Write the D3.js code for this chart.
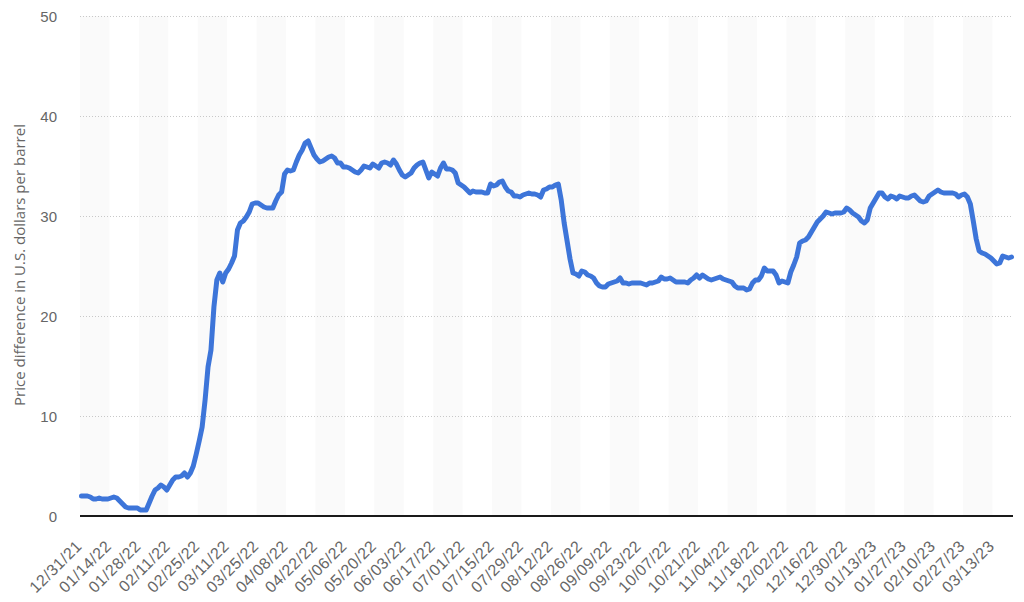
<!DOCTYPE html>
<html><head><meta charset="utf-8">
<script src="https://cdn.jsdelivr.net/npm/d3@7"></script>
<style>body{margin:0;background:#fff} svg{display:block;font-family:"Open Sans",sans-serif}</style>
</head><body><svg width="1024" height="602"></svg>
<script>
const tickLabels = ["12/31/21","01/14/22","01/28/22","02/11/22","02/25/22","03/11/22","03/25/22","04/08/22","04/22/22","05/06/22","05/20/22","06/03/22","06/17/22","07/01/22","07/15/22","07/29/22","08/12/22","08/26/22","09/09/22","09/23/22","10/07/22","10/21/22","11/04/22","11/18/22","12/02/22","12/16/22","12/30/22","01/13/23","01/27/23","02/10/23","02/27/23","03/13/23"];
const tickIndex = [0,10,20,30,40,50,60,70,80,90,100,110,120,130,140,150,160,170,180,190,200,210,220,230,240,250,260,270,280,290,300,310];
const yTicks = [0,10,20,30,40,50];
const yTitle = "Price difference in U.S. dollars per barrel";
const values = [
2.0,2.0,2.0,1.9,1.7,1.7,1.8,1.7,1.7,1.7,
1.8,1.9,1.8,1.5,1.2,0.9,0.8,0.8,0.8,0.8,
0.6,0.6,0.6,1.3,2.0,2.6,2.8,3.1,2.9,2.6,
3.1,3.6,3.9,3.9,4.0,4.3,3.9,4.3,5.0,6.2,
7.5,8.9,11.6,14.9,16.6,20.9,23.6,24.3,23.4,24.3,
24.7,25.3,26.0,28.6,29.3,29.5,29.9,30.4,31.2,31.3,
31.3,31.1,30.9,30.8,30.8,30.8,31.5,32.1,32.4,34.2,
34.6,34.5,34.6,35.4,36.1,36.6,37.3,37.5,36.8,36.1,
35.7,35.4,35.5,35.7,35.9,36.0,35.8,35.3,35.3,34.9,
34.9,34.8,34.6,34.4,34.3,34.6,35.0,34.9,34.8,35.2,
35.0,34.8,35.3,35.4,35.3,35.1,35.6,35.2,34.6,34.1,
33.9,34.1,34.3,34.8,35.1,35.3,35.4,34.6,33.8,34.4,
34.2,34.0,34.8,35.3,34.7,34.7,34.6,34.3,33.3,33.1,
32.9,32.6,32.3,32.5,32.4,32.4,32.4,32.3,32.3,33.2,
33.0,33.1,33.4,33.5,32.9,32.5,32.4,32.0,32.0,31.9,
32.1,32.2,32.3,32.2,32.2,32.1,31.9,32.6,32.7,32.9,
32.9,33.1,33.2,31.6,29.3,27.5,25.7,24.3,24.2,24.0,
24.5,24.4,24.1,24.0,23.8,23.3,23.0,22.9,22.9,23.2,
23.3,23.4,23.5,23.8,23.3,23.3,23.2,23.3,23.3,23.3,
23.3,23.2,23.1,23.3,23.3,23.4,23.5,23.9,23.7,23.7,23.8,
23.6,23.4,23.4,23.4,23.4,23.3,23.6,23.8,24.1,23.8,
24.1,23.9,23.7,23.6,23.7,23.8,23.9,23.7,23.6,23.5,
23.4,23.0,22.8,22.8,22.8,22.6,22.7,23.3,23.6,23.6,
24.0,24.8,24.5,24.5,24.5,24.1,23.3,23.5,23.4,23.3,
24.4,25.1,25.9,27.3,27.5,27.6,27.9,28.4,28.9,29.4,
29.7,30.0,30.4,30.3,30.2,30.3,30.3,30.3,30.4,30.8,
30.6,30.3,30.1,29.9,29.5,29.3,29.6,30.8,31.3,31.8,
32.3,32.3,31.9,31.7,32.0,31.9,31.7,32.0,31.9,31.8,
31.8,32.0,32.1,31.8,31.5,31.4,31.5,32.0,32.2,32.4,
32.6,32.4,32.3,32.3,32.3,32.3,32.2,31.9,32.1,32.2,
31.9,31.2,29.5,27.7,26.5,26.3,26.2,26.0,25.8,25.5,
25.2,25.3,26.0,25.9,25.8,25.9
];

const svg = d3.select("svg");
const mLeft = 80, mRight = 1013, mTop = 16, mBottom = 516;
const x = d3.scaleBand().domain(d3.range(values.length)).range([mLeft, mRight]);
const bw = x.bandwidth();
const xc = i => x(i) + bw / 2;
const y = d3.scaleLinear().domain([0, 50]).range([mBottom, mTop]);

// alternating bands
svg.append("g").selectAll("rect")
  .data(tickIndex.filter((d, k) => k % 2 === 0))
  .join("rect")
  .attr("x", d => x(d)).attr("y", mTop)
  .attr("width", 10 * bw).attr("height", mBottom - mTop)
  .attr("fill", "#fafafa");

// y axis with grid
const yAxis = svg.append("g").attr("transform", `translate(${mLeft},0)`)
  .call(d3.axisLeft(y).tickValues(yTicks).tickSize(-(mRight - mLeft)).tickPadding(23));
yAxis.select(".domain").remove();
yAxis.selectAll(".tick line")
  .attr("stroke", "#c8c8c8").attr("stroke-dasharray", "1,2")
  .attr("opacity", d => d === 0 ? 0 : 1);
yAxis.selectAll(".tick text")
  .attr("fill", "#666").style("font-size", "15px").attr("dy", "0.36em");

// x axis labels
const xAxis = svg.append("g").attr("transform", `translate(0,${mBottom})`)
  .call(d3.axisBottom(x).tickValues(tickIndex).tickSize(0)
    .tickFormat(d => tickLabels[tickIndex.indexOf(d)]));
xAxis.select(".domain").remove();
xAxis.selectAll(".tick text")
  .attr("x", 0).attr("y", 0).attr("dy", 0)
  .attr("transform", "translate(1.5,31) rotate(-45)")
  .style("text-anchor", "end")
  .style("font-size", "16px")
  .style("letter-spacing", "0.5px")
  .attr("fill", "#666");

// baseline
svg.append("line")
  .attr("x1", mLeft).attr("x2", mRight)
  .attr("y1", y(0)).attr("y2", y(0))
  .attr("stroke", "#1a1a1a").attr("stroke-width", 2);

// y title
svg.append("text")
  .attr("transform", `translate(25,${(mTop + mBottom) / 2 - 1}) rotate(-90)`)
  .attr("text-anchor", "middle")
  .attr("fill", "#666")
  .style("font-size", "15px")
  .text(yTitle);

// series line
const line = d3.line().x((d, i) => xc(i)).y(d => y(d));
svg.append("path")
  .datum(values)
  .attr("d", line)
  .attr("fill", "none")
  .attr("stroke", "#3d75d9")
  .attr("stroke-width", 5)
  .attr("stroke-linejoin", "round")
  .attr("stroke-linecap", "round");
</script>
</body></html>
